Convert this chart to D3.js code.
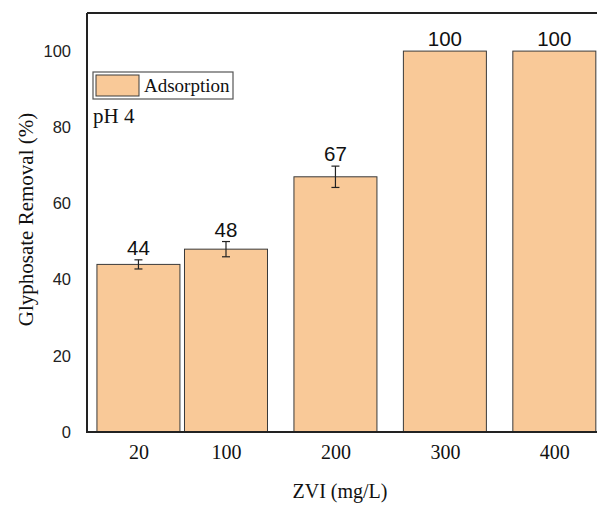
<!DOCTYPE html>
<html>
<head>
<meta charset="utf-8">
<script src="https://cdn.jsdelivr.net/npm/d3@7"></script>
<style>
  html, body { margin: 0; padding: 0; background: #fff; overflow: hidden; }
</style>
</head>
<body>
<div id="chart"></div>
<script>
// ZVI doses (mg/L), removal (%) and error bars
const doses = [20, 100, 200, 300, 400];
const removal = [44, 48, 67, 100, 100];
const errors = [1.2, 2.0, 2.8, 0, 0];
const yTicks = [0, 20, 40, 60, 80, 100];

const width = 597;
const height = 506;

const svg = d3.select("#chart").append("svg")
    .attr("width", width)
    .attr("height", height);

// dose axis is linear, frame runs off the right edge
const x = d3.scaleLinear().domain([-27, 460]).range([87, 620]);
const y = d3.scaleLinear().domain([0, 110]).range([432, 13]);
const barWidth = 83;

const data = doses.map((d, i) => ({dose: d, value: removal[i], err: errors[i]}));

const serif = "'Liberation Serif', 'Times New Roman', serif";
const sans = "'Liberation Sans', Arial, sans-serif";

// bars
svg.append("g")
    .selectAll("rect")
    .data(data)
    .join("rect")
    .attr("x", d => x(d.dose) - barWidth / 2)
    .attr("y", d => y(d.value))
    .attr("width", barWidth)
    .attr("height", d => y(0) - y(d.value))
    .attr("fill", "#f9c998")
    .attr("stroke", "#3a3a3a")
    .attr("stroke-width", 1);

// error bars
const eb = svg.append("g")
    .attr("stroke", "#222")
    .attr("stroke-width", 1.2)
    .selectAll("g")
    .data(data.filter(d => d.err > 0))
    .join("g");

eb.append("line")
    .attr("x1", d => x(d.dose)).attr("x2", d => x(d.dose))
    .attr("y1", d => y(d.value + d.err)).attr("y2", d => y(d.value - d.err));
eb.append("line")
    .attr("x1", d => x(d.dose) - 4).attr("x2", d => x(d.dose) + 4)
    .attr("y1", d => y(d.value + d.err)).attr("y2", d => y(d.value + d.err));
eb.append("line")
    .attr("x1", d => x(d.dose) - 4).attr("x2", d => x(d.dose) + 4)
    .attr("y1", d => y(d.value - d.err)).attr("y2", d => y(d.value - d.err));

// value labels
svg.append("g")
    .selectAll("text")
    .data(data)
    .join("text")
    .attr("x", d => x(d.dose))
    .attr("y", d => y(d.value + d.err) - 5)
    .attr("text-anchor", "middle")
    .attr("font-family", sans)
    .attr("font-size", 20.5)
    .attr("fill", "#111")
    .text(d => d.value);

// frame: top and left/bottom axis lines
svg.append("line")
    .attr("x1", x.range()[0]).attr("x2", x.range()[1])
    .attr("y1", y.range()[1]).attr("y2", y.range()[1])
    .attr("stroke", "#222").attr("stroke-width", 1.8);
svg.append("line")
    .attr("x1", x.range()[0]).attr("x2", x.range()[0])
    .attr("y1", y.range()[1]).attr("y2", y(0) + 1)
    .attr("stroke", "#222").attr("stroke-width", 2);
svg.append("line")
    .attr("x1", x.range()[0] - 1).attr("x2", x.range()[1])
    .attr("y1", y(0)).attr("y2", y(0))
    .attr("stroke", "#222").attr("stroke-width", 2);

// y axis labels
const yAxis = svg.append("g")
    .attr("transform", `translate(${x.range()[0]},0)`)
    .call(d3.axisLeft(y).tickValues(yTicks).tickSize(0).tickPadding(16));
yAxis.select(".domain").remove();
yAxis.selectAll("text")
    .attr("font-family", sans)
    .attr("font-size", 16.5)
    .attr("fill", "#222");

// x axis labels
const xAxis = svg.append("g")
    .attr("transform", `translate(0,${y(0)})`)
    .call(d3.axisBottom(x).tickValues(doses).tickSize(0).tickPadding(13));
xAxis.select(".domain").remove();
xAxis.selectAll("text")
    .attr("font-family", serif)
    .attr("font-size", 20)
    .attr("fill", "#111");

// axis titles
svg.append("text")
    .attr("transform", `translate(33, ${(y.range()[0] + y.range()[1]) / 2 - 3}) rotate(-90)`)
    .attr("text-anchor", "middle")
    .attr("font-family", serif)
    .attr("font-size", 21)
    .attr("fill", "#111")
    .text("Glyphosate Removal (%)");

svg.append("text")
    .attr("x", 340)
    .attr("y", 498)
    .attr("text-anchor", "middle")
    .attr("font-family", serif)
    .attr("font-size", 20)
    .attr("fill", "#111")
    .text("ZVI (mg/L)");

// legend
const legend = svg.append("g").attr("transform", "translate(93, 72)");
legend.append("rect")
    .attr("width", 140).attr("height", 27)
    .attr("fill", "#fff")
    .attr("stroke", "#555").attr("stroke-width", 1.2);
legend.append("rect")
    .attr("x", 3).attr("y", 3)
    .attr("width", 43).attr("height", 21)
    .attr("fill", "#f9c998")
    .attr("stroke", "#3a3a3a").attr("stroke-width", 1);
legend.append("text")
    .attr("x", 51).attr("y", 20)
    .attr("font-family", serif)
    .attr("font-size", 19)
    .attr("fill", "#111")
    .text("Adsorption");

svg.append("text")
    .attr("x", 93).attr("y", 123)
    .attr("font-family", serif)
    .attr("font-size", 21)
    .attr("fill", "#111")
    .text("pH 4");
</script>
</body>
</html>
